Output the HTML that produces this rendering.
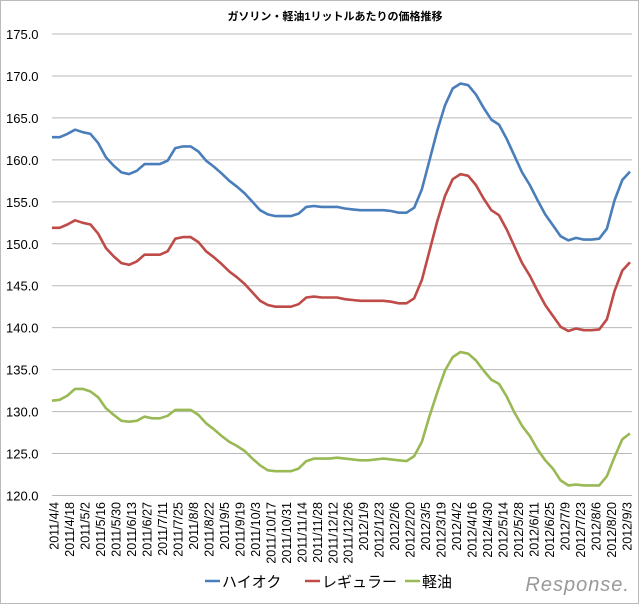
<!DOCTYPE html>
<html><head><meta charset="utf-8"><style>
body{margin:0;background:#fff;}
svg{display:block;font-family:"Liberation Sans","Noto Sans CJK JP",sans-serif;}
</style></head><body>
<svg id="c" width="640" height="605" xmlns="http://www.w3.org/2000/svg">
<rect x="0.5" y="0.5" width="638" height="603" fill="#fff" stroke="#bbb"/>
<text x="335" y="20" font-size="11" font-weight="bold" text-anchor="middle" fill="#000">ガソリン・軽油1リットルあたりの価格推移</text>
<g id="grid"></g>
<g id="xl"></g>
<g id="lines" fill="none" stroke-width="2.6" stroke-linejoin="round"></g>
<g font-size="15" fill="#000">
<line x1="205" y1="581" x2="220" y2="581" stroke="#4a7ebb" stroke-width="2.5"/><text x="222" y="587">ハイオク</text>
<line x1="305" y1="581" x2="320" y2="581" stroke="#be4b48" stroke-width="2.5"/><text x="322" y="587">レギュラー</text>
<line x1="405" y1="581" x2="420" y2="581" stroke="#98b954" stroke-width="2.5"/><text x="422" y="587">軽油</text>
</g>
<text x="630" y="591" font-size="20" font-style="italic" fill="#999" text-anchor="end" letter-spacing="1">Response.</text>
</svg>
<script>
var NS="http://www.w3.org/2000/svg";
function el(t,a,p,txt){var e=document.createElementNS(NS,t);for(var k in a)e.setAttribute(k,a[k]);if(txt)e.textContent=txt;p.appendChild(e);return e;}
var y0=495.5,sc=(495.5-34)/55;
function Y(v){return y0-(v-120)*sc;}
var g=document.getElementById('grid');
for(var v=120;v<=175;v+=5){var y=Y(v);el('line',{x1:52,x2:632,y1:y,y2:y,stroke:'#b8b8b8','stroke-width':1},g);
el('text',{x:6,y:y+5,'font-size':13,fill:'#000'},g,v.toFixed(1));}
var labs="2011/4/4 2011/4/18 2011/5/2 2011/5/16 2011/5/30 2011/6/13 2011/6/27 2011/7/11 2011/7/25 2011/8/8 2011/8/22 2011/9/5 2011/9/19 2011/10/3 2011/10/17 2011/10/31 2011/11/14 2011/11/28 2011/12/12 2011/12/26 2012/1/9 2012/1/23 2012/2/6 2012/2/20 2012/3/5 2012/3/19 2012/4/2 2012/4/16 2012/4/30 2012/5/14 2012/5/28 2012/6/11 2012/6/25 2012/7/9 2012/7/23 2012/8/6 2012/8/20 2012/9/3".split(' ');
var xl=document.getElementById('xl');
labs.forEach(function(s,i){var x=54+i*(627-54)/37+4.5;el('text',{x:0,y:0,'font-size':12.5,fill:'#000','text-anchor':'end',transform:'translate('+x+',502) rotate(-90)'},xl,s);});
var blue=[162.7,162.7,163.1,163.6,163.3,163.1,162,160.3,159.3,158.5,158.3,158.7,159.5,159.5,159.5,159.9,161.4,161.6,161.6,161,159.9,159.2,158.4,157.5,156.8,156,155,154,153.5,153.3,153.3,153.3,153.6,154.4,154.5,154.4,154.4,154.4,154.2,154.1,154,154,154,154,153.9,153.7,153.7,154.3,156.5,160,163.5,166.5,168.5,169.1,168.9,167.8,166.2,164.8,164.2,162.5,160.5,158.5,157,155.2,153.5,152.2,150.9,150.4,150.7,150.5,150.5,150.6,151.8,155.2,157.6,158.6];
var red=blue.map(function(v){return v-10.8;});
var green=[131.3,131.4,131.9,132.7,132.7,132.4,131.7,130.4,129.6,128.9,128.8,128.9,129.4,129.2,129.2,129.5,130.2,130.2,130.2,129.6,128.6,127.9,127.1,126.4,125.9,125.3,124.4,123.6,123.0,122.9,122.9,122.9,123.2,124.1,124.4,124.4,124.4,124.5,124.4,124.3,124.2,124.2,124.3,124.4,124.3,124.2,124.1,124.7,126.4,129.5,132.3,134.9,136.5,137.1,136.9,136.1,134.9,133.8,133.3,131.8,129.9,128.3,127.1,125.5,124.2,123.2,121.8,121.2,121.3,121.2,121.2,121.2,122.3,124.6,126.7,127.4];
var L=document.getElementById('lines');
[[blue,'#4a7ebb'],[red,'#be4b48'],[green,'#98b954']].forEach(function(d){var a=d[0],n=a.length;
var pts=a.map(function(v,i){return (52+i*(630-52)/(n-1)).toFixed(1)+','+Y(v).toFixed(1);}).join(' ');
el('polyline',{points:pts,stroke:d[1]},L);});
</script>
</body></html>
